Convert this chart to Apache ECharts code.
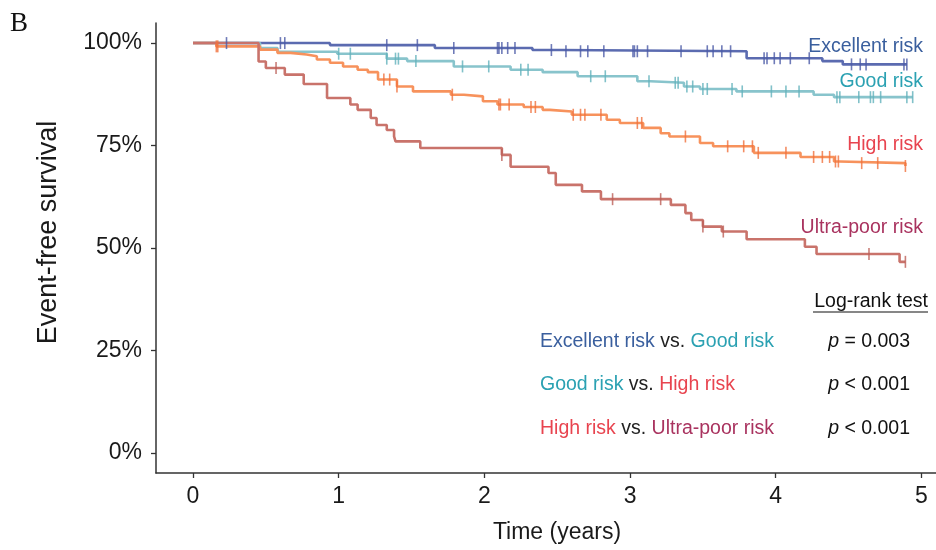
<!DOCTYPE html>
<html>
<head>
<meta charset="utf-8">
<script src="https://cdn.jsdelivr.net/npm/echarts@6/dist/echarts.min.js"></script>
<style>
  html, body { margin: 0; padding: 0; background: #fff; }
  #chart { width: 936px; height: 550px; }
</style>
</head>
<body>
<div id="chart"></div>
<script>
// step curves: time (years) where survival drops, and the new survival (%)
const excellentTimes = [0, 0.94, 1.66, 2.33, 2.52, 3.80, 4.32, 4.46, 4.90]
const excellentSurv = [100, 99.5, 98.8, 98.3, 98.0, 96.3, 95.6, 94.8, 94.8]
const excellentCensor = [0.23, 0.60, 0.63, 1.33, 1.54, 1.79, 2.09, 2.10, 2.12, 2.16, 2.21, 2.46, 2.56, 2.66, 2.71, 2.82,
  3.02, 3.03, 3.05, 3.12, 3.35, 3.53, 3.57, 3.63, 3.69, 3.92, 3.94, 3.99, 4.03, 4.10, 4.23, 4.52, 4.58, 4.62, 4.88, 4.90]

const goodTimes = [0, 0.46, 0.58, 0.99, 1.33, 1.47, 1.79, 2.18, 2.40, 2.64, 3.05, 3.14, 3.37, 3.48, 3.73, 4.26, 4.40, 4.94]
const goodSurv = [100, 98.8, 97.9, 97.4, 96.2, 95.6, 94.3, 93.5, 92.9, 91.9, 90.7, 90.3, 89.4, 88.8, 88.2, 87.4, 86.8, 86.8]
const goodCensor = [1.00, 1.08, 1.33, 1.39, 1.41, 1.53, 1.85, 2.03, 2.25, 2.30, 2.73, 2.83, 3.13, 3.31, 3.33, 3.39,
  3.43, 3.50, 3.53, 3.70, 3.77, 3.97, 4.07, 4.16, 4.42, 4.44, 4.57, 4.65, 4.67, 4.72, 4.90, 4.94]

const highTimes = [0, 0.16, 0.46, 0.58, 0.67, 0.78, 0.85, 0.94, 1.03, 1.13, 1.20, 1.27, 1.40, 1.51, 1.77, 1.86, 1.99,
  2.09, 2.27, 2.40, 2.45, 2.60, 2.84, 2.93, 3.09, 3.21, 3.27, 3.48, 3.57, 3.85, 4.17, 4.40, 4.44, 4.89]
const highSurv = [100, 99.2, 98.4, 97.6, 97.2, 96.8, 96.0, 95.2, 94.3, 93.5, 92.9, 91.1, 89.4, 88.2, 87.4, 87.0, 85.8,
  85.0, 84.4, 83.7, 83.3, 82.5, 81.3, 80.5, 79.3, 78.0, 77.2, 75.6, 74.8, 73.2, 72.2, 71.1, 70.7, 70.0]
const highCensor = [0.16, 0.17, 1.31, 1.35, 1.40, 1.78, 2.10, 2.11, 2.17, 2.32, 2.35, 2.61, 2.66, 2.69, 2.80, 3.05,
  3.08, 3.38, 3.67, 3.78, 3.84, 3.88, 4.07, 4.26, 4.32, 4.37, 4.41, 4.43, 4.59, 4.70, 4.89]

const ultraTimes = [0, 0.45, 0.50, 0.63, 0.76, 0.92, 1.08, 1.13, 1.22, 1.26, 1.33, 1.38, 1.39, 1.56, 2.12, 2.18, 2.44,
  2.49, 2.67, 2.80, 3.28, 3.38, 3.42, 3.50, 3.63, 3.80, 4.20, 4.28, 4.85, 4.89]
const ultraSurv = [100, 95.5, 93.9, 92.3, 90.0, 86.6, 85.0, 83.7, 81.7, 80.0, 78.8, 77.2, 76.0, 74.4, 72.7, 69.8, 68.3,
  65.4, 63.8, 61.9, 60.5, 58.5, 56.8, 55.2, 54.0, 52.1, 50.3, 48.5, 46.6, 46.6]
const ultraCensor = [0.57, 2.12, 2.88, 3.21, 3.50, 3.64, 4.64, 4.89]

const xTicks = [0, 1, 2, 3, 4, 5]
const yTicks = [0, 25, 50, 75, 100]

const groups = [
  { name: 'Excellent risk', times: excellentTimes, surv: excellentSurv, censor: excellentCensor, color: '#5b6bb0', mark: '#4b5aa6' },
  { name: 'Good risk', times: goodTimes, surv: goodSurv, censor: goodCensor, color: '#88c4cc', mark: '#62b1bc' },
  { name: 'High risk', times: highTimes, surv: highSurv, censor: highCensor, color: '#f7925c', mark: '#f0703c' },
  { name: 'Ultra-poor risk', times: ultraTimes, surv: ultraSurv, censor: ultraCensor, color: '#c9736b', mark: '#bb5f58' }
]

// survival level of a step curve at time t
const levelAt = (times, surv, t) => {
  let v = surv[0]
  for (let i = 0; i < times.length; i++) {
    if (times[i] <= t + 1e-9) v = surv[i]
  }
  return v
}

const FONT = '"Liberation Sans", Arial, Helvetica, sans-serif'
const TXT = 19.5

const series = []
groups.forEach((g) => {
  series.push({
    name: g.name,
    type: 'line',
    step: 'end',
    showSymbol: false,
    lineStyle: { width: 2.6, color: g.color },
    itemStyle: { color: g.color },
    data: g.times.map((t, i) => [t, g.surv[i]]),
    z: 2
  })
})
groups.forEach((g) => {
  series.push({
    name: g.name + ' censored',
    type: 'scatter',
    symbol: 'rect',
    symbolSize: [1.6, 12],
    itemStyle: { color: g.mark },
    data: g.censor.map((t) => [t, levelAt(g.times, g.surv, t)]),
    z: 3
  })
})

const rowText = (x, y, text, rich) => ({
  type: 'text', x, y,
  style: { text, verticalAlign: 'middle', font: TXT + 'px ' + FONT, fill: '#222', rich }
})
const pText = (y, text) => ({
  type: 'text', x: 910, y,
  style: {
    text, align: 'right', verticalAlign: 'middle', font: TXT + 'px ' + FONT, fill: '#111',
    rich: { i: { fontStyle: 'italic', fontSize: TXT, fontFamily: FONT, fill: '#111' } }
  }
})
const riskStyle = (fill) => ({ fill, fontSize: TXT, fontFamily: FONT })

const chart = echarts.init(document.getElementById('chart'))

const option = {
  animation: false,
  backgroundColor: '#fff',
  grid: { left: 156, right: 0, top: 23, bottom: 77, outerBoundsMode: 'none' },
  xAxis: {
    type: 'value',
    min: -0.254,
    max: 5.1,
    name: 'Time (years)',
    nameLocation: 'middle',
    nameGap: 48,
    nameTextStyle: { fontSize: 23, color: '#1a1a1a', fontFamily: FONT, padding: [0, 0, 0, 22] },
    axisLine: { onZero: false, lineStyle: { color: '#333', width: 1.5 } },
    axisTick: { show: true, length: 5, customValues: xTicks, lineStyle: { color: '#333', width: 1.3 } },
    axisLabel: { customValues: xTicks, fontSize: 23, color: '#1a1a1a', fontFamily: FONT, margin: 12 },
    splitLine: { show: false }
  },
  yAxis: {
    type: 'value',
    min: -4.94,
    max: 104.9,
    name: 'Event-free survival',
    nameLocation: 'middle',
    nameGap: 94,
    nameRotate: 90,
    nameTextStyle: { fontSize: 27, color: '#1a1a1a', fontFamily: FONT, padding: [0, 0, 0, 31] },
    axisLine: { onZero: false, lineStyle: { color: '#333', width: 1.5 } },
    axisTick: { show: true, length: 5, customValues: yTicks, lineStyle: { color: '#333', width: 1.3 } },
    axisLabel: {
      customValues: yTicks,
      fontSize: 23,
      color: '#1a1a1a',
      fontFamily: FONT,
      margin: 14,
      formatter: (v) => v + '%'
    },
    splitLine: { show: false }
  },
  graphic: [
    { type: 'text', left: 10, top: 10, style: { text: 'B', font: '27px "Liberation Serif", "Times New Roman", serif', fill: '#111' } },
    { type: 'text', x: 923, y: 47, style: { text: 'Excellent risk', align: 'right', verticalAlign: 'middle', font: TXT + 'px ' + FONT, fill: '#3a5f9e' } },
    { type: 'text', x: 923, y: 82, style: { text: 'Good risk', align: 'right', verticalAlign: 'middle', font: TXT + 'px ' + FONT, fill: '#2ba1b2' } },
    { type: 'text', x: 923, y: 145, style: { text: 'High risk', align: 'right', verticalAlign: 'middle', font: TXT + 'px ' + FONT, fill: '#e8444f' } },
    { type: 'text', x: 923, y: 228, style: { text: 'Ultra-poor risk', align: 'right', verticalAlign: 'middle', font: TXT + 'px ' + FONT, fill: '#a9335f' } },
    { type: 'text', x: 928, y: 302, style: { text: 'Log-rank test', align: 'right', verticalAlign: 'middle', font: TXT + 'px ' + FONT, fill: '#111' } },
    { type: 'line', shape: { x1: 813, y1: 312, x2: 928, y2: 312 }, style: { stroke: '#111', lineWidth: 1.2 } },
    rowText(540, 342, '{a|Excellent risk} vs. {b|Good risk}', { a: riskStyle('#3a5f9e'), b: riskStyle('#2ba1b2') }),
    rowText(540, 385, '{b|Good risk} vs. {c|High risk}', { b: riskStyle('#2ba1b2'), c: riskStyle('#e8444f') }),
    rowText(540, 429, '{c|High risk} vs. {d|Ultra-poor risk}', { c: riskStyle('#e8444f'), d: riskStyle('#a9335f') }),
    pText(342, '{i|p} = 0.003'),
    pText(385, '{i|p} < 0.001'),
    pText(429, '{i|p} < 0.001')
  ],
  series
}

chart.setOption(option)
</script>
</body>
</html>
